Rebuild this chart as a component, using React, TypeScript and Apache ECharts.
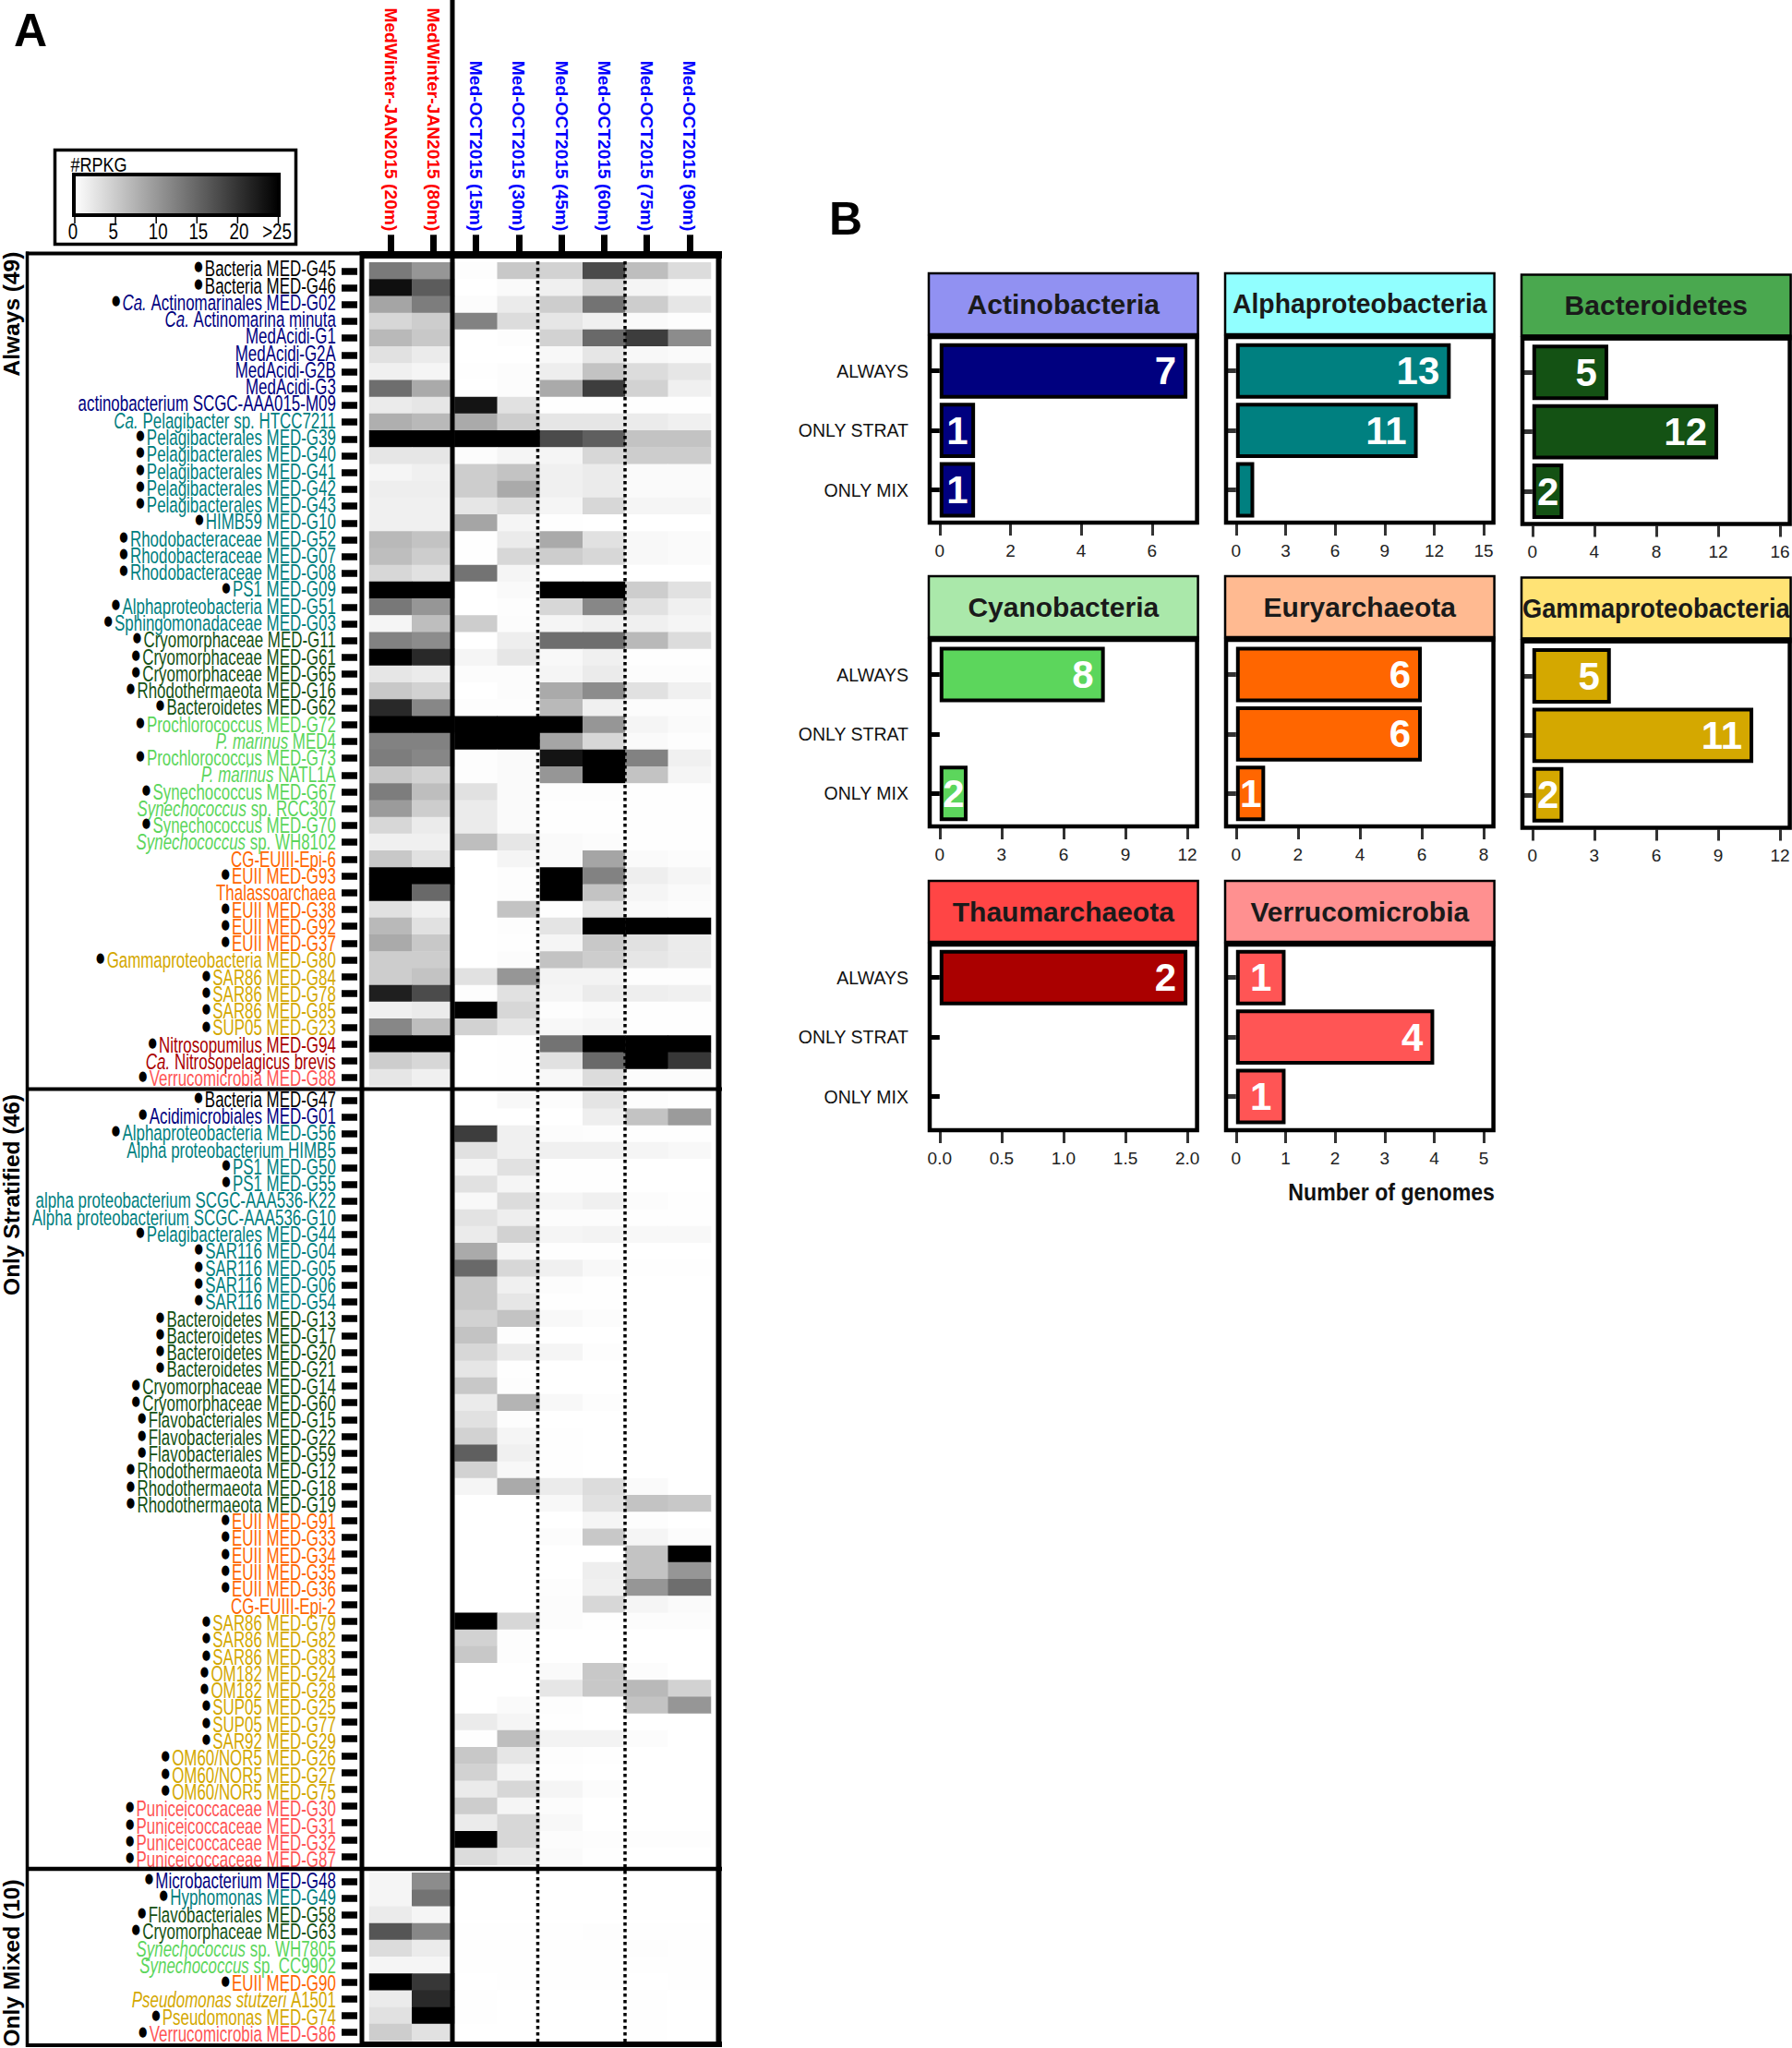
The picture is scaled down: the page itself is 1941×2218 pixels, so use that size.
import React, { useEffect, useRef } from "react";
import * as echarts from "echarts";

const columns = [
  "MedWinter-JAN2015 (20m)", "MedWinter-JAN2015 (80m)",
  "Med-OCT2015 (15m)", "Med-OCT2015 (30m)", "Med-OCT2015 (45m)",
  "Med-OCT2015 (60m)", "Med-OCT2015 (75m)", "Med-OCT2015 (90m)",
];

// '*' = marked with a dot, _x_ = italic
const alwaysNames = [
  "*Bacteria MED-G45", "*Bacteria MED-G46", "*_Ca._ Actinomarinales MED-G02", "_Ca._ Actinomarina minuta",
  "MedAcidi-G1", "MedAcidi-G2A", "MedAcidi-G2B", "MedAcidi-G3", "actinobacterium SCGC-AAA015-M09",
  "_Ca._ Pelagibacter sp. HTCC7211", "*Pelagibacterales MED-G39", "*Pelagibacterales MED-G40",
  "*Pelagibacterales MED-G41", "*Pelagibacterales MED-G42", "*Pelagibacterales MED-G43", "*HIMB59 MED-G10",
  "*Rhodobacteraceae MED-G52", "*Rhodobacteraceae MED-G07", "*Rhodobacteraceae MED-G08", "*PS1 MED-G09",
  "*Alphaproteobacteria MED-G51", "*Sphingomonadaceae MED-G03", "*Cryomorphaceae MED-G11",
  "*Cryomorphaceae MED-G61", "*Cryomorphaceae MED-G65", "*Rhodothermaeota MED-G16", "*Bacteroidetes MED-G62",
  "*Prochlorococcus MED-G72", "_P. marinus_ MED4", "*Prochlorococcus MED-G73", "_P. marinus_ NATL1A",
  "*Synechococcus MED-G67", "_Synechococcus_ sp. RCC307", "*Synechococcus MED-G70", "_Synechococcus_ sp. WH8102",
  "CG-EUIII-Epi-6", "*EUII MED-G93", "Thalassoarchaea", "*EUII MED-G38", "*EUII MED-G92", "*EUII MED-G37",
  "*Gammaproteobacteria MED-G80", "*SAR86 MED-G84", "*SAR86 MED-G78", "*SAR86 MED-G85", "*SUP05 MED-G23",
  "*Nitrosopumilus MED-G94", "_Ca._ Nitrosopelagicus brevis", "*Verrucomicrobia MED-G88",
];
const alwaysTaxa = [
  "B","B","A","A","A","A","A","A","A","P","P","P","P","P","P","P","P","P","P","P","P","P",
  "D","D","D","D","D","C","C","C","C","C","C","C","C","E","E","E","E","E","E","G","G","G","G","G","T","T","V",
];
const alwaysValues = [
  [13,10.3,0.2,5.4,4.4,17.6,6.4,3.4],[23.5,16,0,0.5,1.5,3.9,1,0.5],[8.8,12.7,0.3,2,4.9,13.7,4.9,2.5],
  [3.9,4.9,12.3,3.4,2.5,1.5,0.5,0.2],[6.9,5.4,0,0.2,4.4,14.7,19,11.3],[2.9,2,0,0,0.7,2.5,0.7,0.5],
  [1.5,1,0.1,0.3,1.7,5.9,3.4,2.5],[14.2,8.3,0,0.3,8.3,19,4.4,1.5],[2,2.5,23,2.9,0.1,0.1,0.1,0.1],
  [7.8,6.9,8.3,4.9,2.5,2.5,2,1.5],[25,25,25,25,17.6,15.7,5.9,5.9],[2.5,2.5,0.3,1,1,3.9,4.9,4.9],
  [1,1.5,4.9,5.9,1.5,2,0.5,0.5],[1.7,1.7,4.9,8.3,1.5,2,0.5,0.5],[1.5,1.5,2.5,3.4,1,3.9,1,1],
  [1.5,1.5,8.8,1,0.1,0,0,0],[6.9,5.9,0.1,2,8.3,2.9,0.7,0.5],[6.4,4.9,0.1,3.9,4.9,3.9,0.7,0.5],
  [3.9,2.9,13.7,1,0,0,0,0],[25,25,0,0.5,25,25,4.9,2.9],[13.2,10.3,0,0.2,3.9,11.8,2.9,1.5],
  [1,6.4,4.9,0.3,1,1.5,1.5,1],[12.3,11.3,0,1.7,14.2,14.2,6.9,3.4],[25,21,1,2.5,0.7,1.5,0.1,0.1],
  [2.5,2,0.3,0.3,1,2,0.3,0.3],[5.4,4.4,0,0.3,8.3,11.3,2.9,1.5],[21,11.8,0.2,0.2,6.9,1.5,0.3,0.3],
  [25,25,25,25,25,10.3,1,0.5],[12.3,12.3,25,25,8.8,3.9,0.5,0.2],[12.7,11.8,0.2,0.5,23,25,12.3,1.5],
  [5.4,4.4,0.2,0.5,10.3,25,5.9,1],[12.7,6.4,2.9,0.5,0.2,0.2,0.1,0.1],[9.8,4.9,2,0.5,0.1,0.1,0.1,0.1],
  [3.9,2,2,0.5,0.1,0.1,0.1,0.1],[1.5,1.5,6.4,2.5,0.5,0.3,0.1,0.1],[5.4,2.9,0,1,0.5,8.8,0.5,0.3],
  [25,25,0,0.2,25,12.3,1.7,1],[25,14.7,0,0.2,25,5.9,1,0.5],[2.9,1.5,0,5.9,0.1,2.5,0.5,0.3],
  [6.9,2.9,0,0.2,2.6,25,25,25],[8.3,5.4,0,0.1,1,5.4,2.9,2],[4.9,4.9,0,0.3,5.9,4.9,2.5,2],
  [4.9,5.9,2.9,10.3,1.2,1.2,0.2,0.2],[22,17.6,0.2,2.9,1,2,1.7,1.5],[1.5,2,25,3.9,0.2,0.5,0.1,0.1],
  [11.8,6.4,4.4,2.5,0.7,1,0.1,0.1],[25,25,0,0.1,13.7,25,25,25],[4.9,3.9,0,0.1,2.9,14.7,25,19.6],
  [2.5,1.5,0,0.1,0.7,3.4,0.3,0.3],
];

const stratifiedNames = [
  "*Bacteria MED-G47", "*Acidimicrobiales MED-G01", "*Alphaproteobacteria MED-G56", "Alpha proteobacterium HIMB5",
  "*PS1 MED-G50", "*PS1 MED-G55", "alpha proteobacterium SCGC-AAA536-K22", "Alpha proteobacterium SCGC-AAA536-G10",
  "*Pelagibacterales MED-G44", "*SAR116 MED-G04", "*SAR116 MED-G05", "*SAR116 MED-G06", "*SAR116 MED-G54",
  "*Bacteroidetes MED-G13", "*Bacteroidetes MED-G17", "*Bacteroidetes MED-G20", "*Bacteroidetes MED-G21",
  "*Cryomorphaceae MED-G14", "*Cryomorphaceae MED-G60", "*Flavobacteriales MED-G15", "*Flavobacteriales MED-G22",
  "*Flavobacteriales MED-G59", "*Rhodothermaeota MED-G12", "*Rhodothermaeota MED-G18", "*Rhodothermaeota MED-G19",
  "*EUII MED-G91", "*EUII MED-G33", "*EUII MED-G34", "*EUII MED-G35", "*EUII MED-G36", "CG-EUIII-Epi-2",
  "*SAR86 MED-G79", "*SAR86 MED-G82", "*SAR86 MED-G83", "*OM182 MED-G24", "*OM182 MED-G28", "*SUP05 MED-G25",
  "*SUP05 MED-G77", "*SAR92 MED-G29", "*OM60/NOR5 MED-G26", "*OM60/NOR5 MED-G27", "*OM60/NOR5 MED-G75",
  "*Puniceicoccaceae MED-G30", "*Puniceicoccaceae MED-G31", "*Puniceicoccaceae MED-G32", "*Puniceicoccaceae MED-G87",
];
const stratifiedTaxa = [
  "B","A","P","P","P","P","P","P","P","P","P","P","P","D","D","D","D","D","D","D","D","D","D","D","D",
  "E","E","E","E","E","E","G","G","G","G","G","G","G","G","G","G","G","V","V","V","V",
];
const stratifiedValues = [
  [0,0,0,0.7,0.3,2.6,0.3,0.1],[0,0,0,0,0,1.7,5.9,9.8],[0,0,19,1.5,0.3,0.2,0.1,0.1],[0,0,2.9,1.5,1.5,1.5,1,0.7],
  [0,0,1,2.9,0.1,0.1,0,0],[0,0,2.9,1,0.1,0.1,0,0],[0,0,0.7,3.4,1,1.5,0.3,0.1],[0,0,2.7,1.7,0.3,0.3,0.1,0.1],
  [0,0,2,4.4,1,1.2,0.7,0.7],[0,0,8.3,1,0.1,0.1,0,0],[0,0,14.7,3.9,1.5,0.7,0.1,0.1],[0,0,5.4,1.5,0.3,0.1,0,0],
  [0,0,5.4,2.5,0.1,0.1,0,0],[0,0,4.4,5.9,0.7,0.3,0,0],[0,0,5.9,0.2,0,0,0,0],[0,0,3.9,2,1,0.2,0,0],
  [0,0,2.5,0.1,0,0,0,0],[0,0,5.4,0.2,0,0,0,0],[0,0,2,7.4,0.7,0.2,0,0],[0,0,2.9,0.2,0,0,0,0],
  [0,0,4.4,1,0.1,0,0,0],[0,0,15.7,1.5,0.1,0,0,0],[0,0,4.4,0.7,0.1,0,0,0],[0,0,1,8.3,2,3.4,0.5,0],
  [0,0,0,0,0.7,2.9,5.9,5.4],[0,0,0,0,0,1,0.2,0],[0,0,0,0,0.3,5.4,1,0.3],[0,0,0,0,0,0,5.9,25],
  [0,0,0,0,0,1.7,5.9,10.3],[0,0,0,0,0.2,1.5,10.3,14.2],[0,0,0,0,0.3,3.9,1,0.5],[0,0,25,3.9,0.3,0.1,0.3,0.3],
  [0,0,4.4,0.2,0,0,0,0],[0,0,5.4,0.2,0,0,0,0],[0,0,0,0,0.5,5.4,0.3,0],[0,0,0,0,2.5,5.4,6.9,4.4],
  [0,0,0,0.5,0.2,0,5.9,10.3],[0,0,2,1,0.1,0,0,0],[0,0,0.1,6.4,1.2,1.2,0.3,0],[0,0,5.4,2.5,0.2,0.1,0,0],
  [0,0,4.4,1,0.1,0,0,0],[0,0,2,3.9,1,0.3,0,0],[0,0,4.9,1,0.3,0,0,0],[0,0,2,3.9,0.7,0,0,0],
  [0,0,25,3.9,0.3,0.2,0.2,0.2],[0,0,3.4,2.3,0.5,0.1,0,0],
];

const mixedNames = [
  "*Microbacterium MED-G48", "*Hyphomonas MED-G49", "*Flavobacteriales MED-G58", "*Cryomorphaceae MED-G63",
  "_Synechococcus_ sp. WH7805", "_Synechococcus_ sp. CC9902", "*EUII MED-G90", "_Pseudomonas stutzeri_ A1501",
  "*Pseudomonas MED-G74", "*Verrucomicrobia MED-G86",
];
const mixedTaxa = ["A","P","D","D","C","C","E","G","G","V"];
const mixedValues = [
  [1,11.3,0,0,0,0,0,0],[1,13.7,0,0,0,0,0,0],[2,1,0,0,0,0,0,0],[16.7,11.8,0.1,0.1,0.1,0.2,0.1,0.1],
  [3.4,2,0.1,0.1,0.1,0.1,0.2,0.1],[1,1,0.1,0.1,0.1,0.1,0.1,0.1],[25,19.6,0,0.1,0.1,0.1,0,0.1],
  [2,21,0.1,0,0,0,0.1,0],[2.9,25,0.1,0,0,0,0.1,0],[4.9,2.9,0,0,0,0,0.1,0],
];

const groupLabels = ["Always (49)", "Only Stratified (46)", "Only Mixed (10)"];
const legendTicks = ["0", "5", "10", "15", "20", ">25"];

const barCategories = ["ALWAYS", "ONLY STRAT", "ONLY MIX"];
const phyla = ["Actinobacteria","Alphaproteobacteria","Bacteroidetes","Cyanobacteria","Euryarchaeota","Gammaproteobacteria","Thaumarchaeota","Verrucomicrobia"];
const barValues = [[7,1,1],[13,11,1.1],[4.9,12,2],[8,null,1.35],[6,6,0.94],[3.8,10.7,1.5],[2,null,null],[1,4,1]];
const barTexts = [["7","1","1"],["13","11",""],["5","12","2"],["8","","2"],["6","6","1"],["5","11","2"],["2","",""],["1","4","1"]];
const axisMax = [7,15,16,12,8,12,2,5];
const axisStep = [2,3,4,3,2,3,0.5,1];

// ---- styling ----
const taxonColor: Record<string, string> = {
  B: "#000000", A: "#00007f", P: "#008080", D: "#145214", C: "#5cd65c", E: "#ff6600", G: "#d4a800", T: "#aa0000", V: "#ff5555",
};
const barColors = ["#00007f","#008080","#145214","#5cd65c","#ff6600","#d4a800","#aa0000","#ff5555"];
const stripColors = ["#9191f2","#91ffff","#4aa84f","#aae8aa","#ffba91","#ffe375","#ff4545","#ff9090"];
const titleScale = [1, 0.945, 1, 1, 1, 0.91, 1, 1];
const SANS = '"Liberation Sans", Arial, sans-serif';
const LABEL_SIZE = 23.5;

const richStyles: any = { dot: { fontFamily: "DejaVu Sans", fontSize: 15, fill: "#000", color: "#000", padding: [0, 3, 5, 0] } };
Object.keys(taxonColor).forEach((k) => {
  richStyles[k + "n"] = { fill: taxonColor[k], color: taxonColor[k], fontFamily: SANS, fontSize: LABEL_SIZE };
  richStyles[k + "i"] = { fill: taxonColor[k], color: taxonColor[k], fontFamily: SANS, fontSize: LABEL_SIZE, fontStyle: "italic" };
});

function rowLabel(name: string, taxon: string) {
  let s = name;
  let out = "";
  if (s[0] === "*") { out += "{dot|●}"; s = s.slice(1); }
  s.split("_").forEach((part, i) => {
    if (part) out += `{${taxon}${i % 2 ? "i" : "n"}|${part}}`;
  });
  return out;
}

const HEAT_X = 400, HEAT_W = 370, ROW_H = 18.2;
const groupTop = [284.3, 1182.5, 2028.3];
const labelTop = [290.7, 1190, 2036], labelStep = [18.27, 18.3, 18.5];
const RULE_X = 490;

function buildOption() {
  const grid: any[] = [], xAxis: any[] = [], yAxis: any[] = [], series: any[] = [], graphic: any[] = [];
  const sets = [
    [alwaysNames, alwaysTaxa, alwaysValues],
    [stratifiedNames, stratifiedTaxa, stratifiedValues],
    [mixedNames, mixedTaxa, mixedValues],
  ] as [string[], string[], number[][]][];

  sets.forEach(([names, taxa, vals], g) => {
    grid.push({ left: HEAT_X, top: groupTop[g], width: HEAT_W, height: names.length * ROW_H, outerBoundsMode: "none" });
    xAxis.push({
      type: "category", gridIndex: g, data: columns, position: "top", offset: 12, show: g === 0,
      axisLine: { show: false },
      axisTick: { show: true, alignWithLabel: true, length: 18, lineStyle: { width: 7, color: "#000" } },
      axisLabel: {
        show: true, interval: 0, rotate: 90, margin: 22, fontFamily: SANS, fontWeight: "bold", fontSize: 19.2,
        color: (_: any, i: number) => (i < 2 ? "#ff0000" : "#0000ff"),
      },
    });
    yAxis.push({
      type: "category", gridIndex: g, data: names, inverse: true, position: "left", offset: 13,
      axisLine: { show: false },
      axisTick: { show: true, alignWithLabel: true, length: 17, lineStyle: { width: 7.5, color: "#000" } },
      axisLabel: { show: false },
    });
    const data: number[][] = [];
    vals.forEach((row, r) => row.forEach((v, c) => data.push([c, r, v])));
    series.push({
      type: "heatmap", xAxisIndex: g, yAxisIndex: g, data, progressive: 0,
      itemStyle: { borderWidth: 0 }, emphasis: { disabled: true },
    });
    // row names: condensed real text, right-aligned beside the ticks
    names.forEach((n, r) => {
      graphic.push({
        type: "text", z: 45, silent: true, x: 363.8, y: labelTop[g] + r * labelStep[g], scaleX: 0.72,
        style: { text: rowLabel(n, taxa[r]), rich: richStyles, textAlign: "right", textVerticalAlign: "middle", fontFamily: SANS, fontSize: LABEL_SIZE },
      });
    });
  });

  const line = (x1: number, y1: number, x2: number, y2: number, w: number, dash?: number[]) => ({
    type: "line", z: 50, silent: true, shape: { x1, y1, x2, y2 },
    style: { stroke: "#000", lineWidth: w, lineDash: dash },
  });
  // heatmap frames
  graphic.push(line(28, 274.5, 390, 274.5, 4));
  graphic.push(line(390, 276, 782, 276, 8));
  graphic.push(line(28, 1179.5, 782, 1179.5, 4));
  graphic.push(line(28, 2024, 782, 2024, 4.5));
  graphic.push(line(28, 2215, 390, 2215, 4));
  graphic.push(line(390, 2214, 782, 2214, 6));
  graphic.push(line(29.5, 272.5, 29.5, 2217, 3.5));
  graphic.push(line(392, 272, 392, 2217, 5));
  graphic.push(line(778.5, 272, 778.5, 2217, 6));
  graphic.push(line(RULE_X, 0, RULE_X, 2214, 5));
  graphic.push(line(582.5, 283, 582.5, 2212, 3.5, [3.5, 3.5]));
  graphic.push(line(677, 283, 677, 2212, 3.5, [3.5, 3.5]));

  const text = (t: string, x: number, y: number, font: string, extra: any = {}, rotation = 0, scaleX = 1) => ({
    type: "text", z: 60, silent: true, x, y, rotation, scaleX,
    style: { text: t, font, fill: "#000", textAlign: "center", textVerticalAlign: "middle", ...extra },
  });
  graphic.push(text("A", 33, 33, `bold 50px ${SANS}`));
  graphic.push(text("B", 916, 237, `bold 50px ${SANS}`));
  [340, 1294, 2126].forEach((y, i) =>
    graphic.push(text(groupLabels[i], 12.5, y, `bold 24.5px ${SANS}`, {}, Math.PI / 2))
  );

  // colour key
  graphic.push({ type: "rect", z: 50, silent: true, shape: { x: 59.5, y: 162.5, width: 261, height: 102 }, style: { fill: "#fff", stroke: "#000", lineWidth: 3.5 } });
  graphic.push({
    type: "rect", z: 51, silent: true, shape: { x: 80, y: 189, width: 222, height: 44 },
    style: {
      stroke: "#000", lineWidth: 4,
      fill: new echarts.graphic.LinearGradient(0, 0, 1, 0, [{ offset: 0, color: "#ffffff" }, { offset: 1, color: "#000000" }]),
    },
  });
  graphic.push(text("#RPKG", 107, 178, `22px ${SANS}`, {}, 0, 0.82));
  const legendNudge = [-2, -2.4, 2, 1.5, 1.5, -1.5];
  legendTicks.forEach((t, i) => {
    const x = 81 + i * 44.1;
    graphic.push(line(x, 234, x, 242, 1.5));
    graphic.push(text(t, x + legendNudge[i], 251, `24px ${SANS}`, {}, 0, 0.78));
  });

  // panel B
  const colX = [1005, 1326, 1647];
  const colW = [293.6, 293.6, 293.6];
  const stripTop = [296, 624, 954], stripBot = [362, 690, 1020], panelBot = [568, 897, 1226], firstBand = [401.7, 730.5, 1058.7];
  const STEP = 64.4;
  phyla.forEach((name, i) => {
    const col = i % 3, row = Math.floor(i / 3);
    const dy = col === 2 ? 1.5 : 0;
    const gi = 3 + i;
    const gx = colX[col] + 12.8, gw = 268.3;
    grid.push({ left: gx, top: firstBand[row] - STEP / 2 + dy, width: gw, height: STEP * 3, outerBoundsMode: "none" });
    const axisY = firstBand[row] - STEP / 2 + dy + STEP * 3;
    const offset = panelBot[row] + dy - axisY;
    const max = axisMax[i], step = axisStep[i];
    const ticks: number[] = [];
    for (let k = 0; k <= Math.round(max / step); k++) ticks.push(k * step);
    xAxis.push({
      type: "value", gridIndex: gi, min: 0, max, interval: step, position: "bottom", offset,
      splitLine: { show: false }, axisLine: { show: false },
      axisTick: { show: true, length: 12, lineStyle: { width: 3, color: "#333" }, customValues: ticks },
      axisLabel: {
        show: true, margin: 18.5, fontFamily: SANS, fontSize: 19, color: "#222", customValues: ticks,
        formatter: (v: number) => (max <= 2 ? v.toFixed(1) : String(v)),
      },
    });
    yAxis.push({
      type: "category", gridIndex: gi, data: barCategories, inverse: true, position: "left", offset: 12.8,
      axisLine: { show: false },
      axisTick: { show: true, alignWithLabel: true, length: 12, lineStyle: { width: 5, color: col === 0 ? "#000" : "#333" } },
      axisLabel: { show: col === 0, interval: 0, margin: 21, fontFamily: SANS, fontSize: 19.5, color: "#111" },
    });
    series.push({
      type: "bar", xAxisIndex: gi, yAxisIndex: gi, barCategoryGap: "7%",
      itemStyle: { color: barColors[i], borderColor: "#000", borderWidth: 4 },
      emphasis: { disabled: true },
      data: barValues[i].map((v, k) => {
        const wide = v != null && (v / max) * gw > 60;
        return {
          value: v,
          label: {
            show: !!barTexts[i][k], position: wide ? "insideRight" : "inside", distance: 12,
            formatter: barTexts[i][k], color: "#fff", fontFamily: SANS, fontWeight: "bold", fontSize: 42,
          },
        };
      }),
    });
    graphic.push({
      type: "rect", z: 40, silent: true,
      shape: { x: colX[col] + 2, y: stripBot[row] + 3 + dy, width: colW[col] - 4, height: panelBot[row] - stripBot[row] - 5 },
      style: { fill: "none", stroke: "#000", lineWidth: 4.5 },
    });
    graphic.push(line(colX[col], stripBot[row] + 2 + dy, colX[col] + colW[col], stripBot[row] + 2 + dy, 6));
    graphic.push({
      type: "rect", z: 41, silent: true,
      shape: { x: colX[col] + 1, y: stripTop[row] + dy, width: colW[col] - 2, height: stripBot[row] - stripTop[row] },
      style: { fill: stripColors[i], stroke: "#000", lineWidth: 2.5 },
    });
    graphic.push(text(name, colX[col] + colW[col] / 2, (stripTop[row] + stripBot[row]) / 2 + dy, `bold 30px ${SANS}`, { fill: "#1a1a1a" }, 0, titleScale[i]));
  });
  graphic.push(text("Number of genomes", 1619, 1291, `bold 26px ${SANS}`, { textAlign: "right", fill: "#111" }, 0, 0.89));

  return {
    animation: false,
    backgroundColor: "#ffffff",
    grid, xAxis, yAxis, series, graphic,
    visualMap: {
      show: false, min: 0, max: 25, seriesIndex: [0, 1, 2], dimension: 2,
      inRange: { color: ["#ffffff", "#000000"] },
    },
  };
}

export default function App() {
  const ref = useRef<HTMLDivElement>(null);
  useEffect(() => {
    document.body.style.margin = "0";
    const chart = echarts.init(ref.current!, undefined, { renderer: "svg" });
    chart.setOption(buildOption() as any);
    return () => chart.dispose();
  }, []);
  return <div ref={ref} style={{ position: "absolute", left: 0, top: 0, width: 1941, height: 2218 }} />;
}
